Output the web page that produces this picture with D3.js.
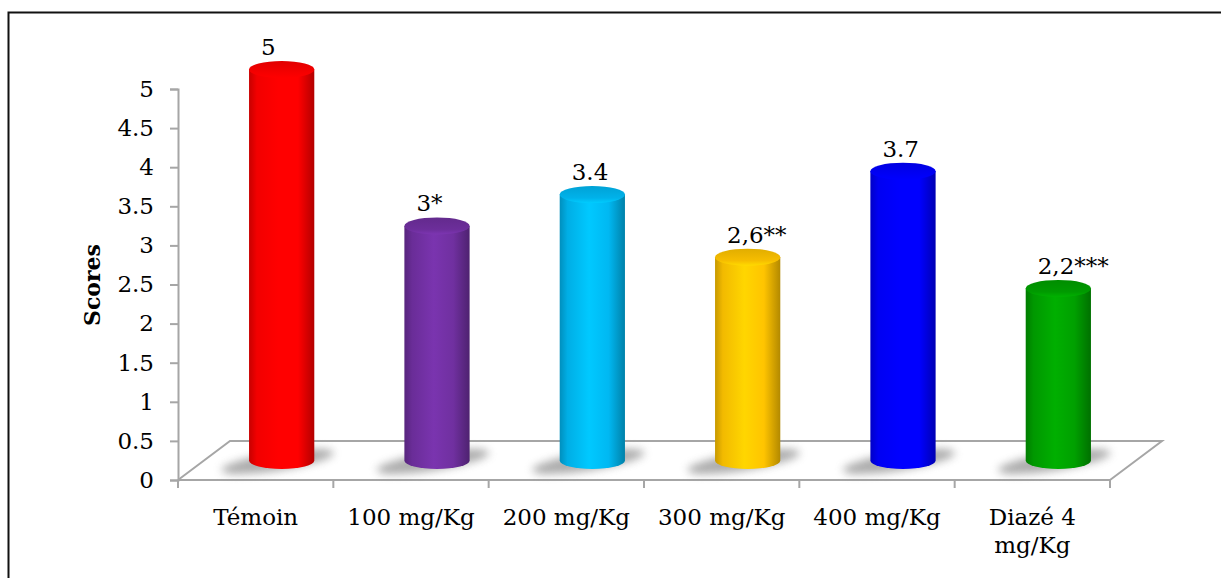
<!DOCTYPE html>
<html>
<head>
<meta charset="utf-8">
<script src="https://cdn.jsdelivr.net/npm/d3@7"></script>
<style>
  body { margin: 0; background: #fff; }
  text { font-family: "DejaVu Serif", serif; fill: #000; }
</style>
</head>
<body>
<div id="chart"></div>
<script>
var categories = ["Témoin", "100 mg/Kg", "200 mg/Kg", "300 mg/Kg", "400 mg/Kg", "Diazé 4 mg/Kg"]
var scores = [5, 3, 3.4, 2.6, 3.7, 2.2]
var valueLabels = ["5", "3*", "3.4", "2,6**", "3.7", "2,2***"]
var barColors = ["#ff0000", "#7030a0", "#00b8f2", "#ffc400", "#0000ff", "#00a000"]
var yTicks = [0, 0.5, 1, 1.5, 2, 2.5, 3, 3.5, 4, 4.5, 5]

var width = 1221
var height = 578
// 3D floor depth
var depthX = 52, depthY = 39

var svg = d3.select("#chart")
  .append("svg")
  .attr("width", width)
  .attr("height", height)

// outer frame
svg.append("rect")
  .attr("x", 8.5).attr("y", 12.5)
  .attr("width", 1240).attr("height", 600)
  .attr("fill", "none")
  .attr("stroke", "#111")
  .attr("stroke-width", 2)

var x = d3.scaleBand()
  .domain(categories)
  .range([178, 1110])
  .padding(0)

var y = d3.scaleLinear()
  .domain([0, 5])
  .range([480, 89])

var defs = svg.append("defs")

defs.append("filter")
  .attr("id", "blur")
  .attr("x", "-50%").attr("y", "-100%")
  .attr("width", "200%").attr("height", "300%")
  .append("feGaussianBlur")
  .attr("stdDeviation", 4)

barColors.forEach(function(c, i) {
  var base = d3.color(c)
  var g = defs.append("linearGradient")
    .attr("id", "body" + i)
    .attr("x1", 0).attr("x2", 1).attr("y1", 0).attr("y2", 0)
  var stops = [
    [0, base.darker(0.7)],
    [0.12, base.darker(0.15)],
    [0.45, base.brighter(0.25)],
    [0.75, base],
    [1, base.darker(1)]
  ]
  stops.forEach(function(s) {
    g.append("stop").attr("offset", s[0]).attr("stop-color", s[1])
  })
  var t = defs.append("linearGradient")
    .attr("id", "top" + i)
    .attr("x1", 0).attr("x2", 0).attr("y1", 0).attr("y2", 1)
  t.append("stop").attr("offset", 0).attr("stop-color", base.darker(0.35))
  t.append("stop").attr("offset", 0.7).attr("stop-color", base.darker(0.1))
  t.append("stop").attr("offset", 1).attr("stop-color", base.brighter(0.3))
})

var axisColor = "#a6a6a6"

// floor
var x0 = x.range()[0], x1 = x.range()[1], yb = y(0)
svg.append("path")
  .attr("d", "M" + x0 + "," + yb + "L" + (x0 + depthX) + "," + (yb - depthY) +
    "L" + (x1 + depthX) + "," + (yb - depthY) + "L" + x1 + "," + yb)
  .attr("fill", "none")
  .attr("stroke", axisColor)
  .attr("stroke-width", 2)

// y axis
var yAxis = svg.append("g")
  .attr("transform", "translate(" + x0 + ",0)")
  .call(d3.axisLeft(y).tickValues(yTicks).tickFormat(function(d) { return String(d) }).tickSize(8).tickPadding(16))
yAxis.select(".domain").attr("stroke", axisColor).attr("stroke-width", 2)
yAxis.selectAll(".tick line").attr("stroke", axisColor).attr("stroke-width", 2)
yAxis.selectAll(".tick text")
  .style("font-family", "DejaVu Serif")
  .style("font-size", "23px")
  .attr("fill", "#000")

// x axis line and ticks at band edges
svg.append("line")
  .attr("x1", x0).attr("x2", x1)
  .attr("y1", yb).attr("y2", yb)
  .attr("stroke", axisColor).attr("stroke-width", 2)

var edges = categories.map(function(c) { return x(c) }).concat([x1])
svg.selectAll(".xtick")
  .data(edges)
  .enter()
  .append("line")
  .attr("class", "xtick")
  .attr("x1", function(d) { return d }).attr("x2", function(d) { return d })
  .attr("y1", yb).attr("y2", yb + 8)
  .attr("stroke", axisColor).attr("stroke-width", 2)

// category labels
var catText = svg.selectAll(".cat")
  .data(categories)
  .enter()
  .append("text")
  .attr("class", "cat")
  .attr("x", function(d) { return x(d) + x.bandwidth() / 2 })
  .attr("y", 525)
  .attr("text-anchor", "middle")
  .style("font-size", "23px")

catText.each(function(d) {
  var lines = [d]
  if (d.length > 11) {
    var k = d.lastIndexOf(" ")
    lines = [d.slice(0, k), d.slice(k + 1)]
  }
  var el = d3.select(this)
  lines.forEach(function(l, j) {
    el.append("tspan")
      .attr("x", x(d) + x.bandwidth() / 2)
      .attr("dy", j == 0 ? 0 : 28)
      .text(l)
  })
})

// y title
svg.append("text")
  .attr("transform", "translate(100,285) rotate(-90)")
  .attr("text-anchor", "middle")
  .style("font-size", "22px")
  .style("font-weight", "bold")
  .text("Scores")

// cylinders
var barW = x.bandwidth() * 0.42
var ry = 8.5
var offX = depthX / 2, offY = depthY / 2

var bars = svg.selectAll(".bar")
  .data(scores)
  .enter()
  .append("g")
  .attr("class", "bar")

bars.each(function(d, i) {
  var g = d3.select(this)
  var cx = x(categories[i]) + x.bandwidth() / 2 + offX
  var rx = barW / 2
  var yTop = y(d) - offY
  var yBot = y(0) - offY

  // shadow on the floor
  g.append("ellipse")
    .attr("cx", cx - 4)
    .attr("cy", yBot + 1)
    .attr("rx", rx + 24)
    .attr("ry", 9)
    .attr("transform", "rotate(-9," + (cx - 4) + "," + (yBot + 1) + ")")
    .attr("fill", "#888")
    .attr("opacity", 0.7)
    .attr("filter", "url(#blur)")

  g.append("path")
    .attr("d", "M" + (cx - rx) + "," + yTop +
      "L" + (cx - rx) + "," + yBot +
      "A" + rx + "," + ry + " 0 0,0 " + (cx + rx) + "," + yBot +
      "L" + (cx + rx) + "," + yTop + "Z")
    .attr("fill", "url(#body" + i + ")")

  g.append("ellipse")
    .attr("cx", cx).attr("cy", yTop)
    .attr("rx", rx).attr("ry", ry)
    .attr("fill", "url(#top" + i + ")")

  g.append("text")
    .attr("x", cx - rx + 12)
    .attr("y", yTop - ry - 6)
    .style("font-size", "23px")
    .text(valueLabels[i])
})
</script>
</body>
</html>
